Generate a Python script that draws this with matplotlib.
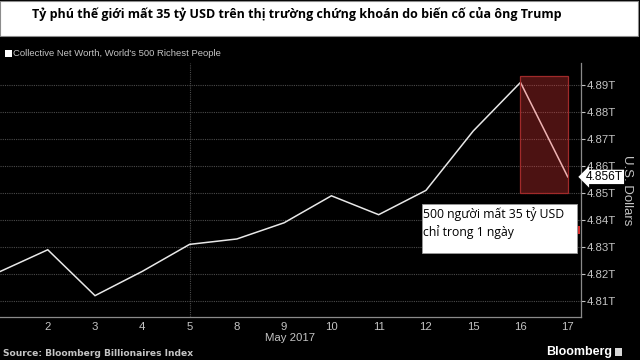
import matplotlib
matplotlib.use("Agg")
import matplotlib.pyplot as plt
from matplotlib.patches import Rectangle
from matplotlib.ticker import FixedLocator, FuncFormatter

# May 2017, trading days only
DAYS = ["1", "2", "3", "4", "5", "8", "9", "10", "11", "12", "15", "16", "17"]
NET_WORTH = [4.821, 4.829, 4.812, 4.821, 4.831, 4.833, 4.839, 4.849,
             4.842, 4.851, 4.873, 4.891, 4.856]
Y_TICKS = [4.81, 4.82, 4.83, 4.84, 4.85, 4.86, 4.87, 4.88, 4.89]
TICK_DAYS = ["2", "3", "4", "5", "8", "9", "10", "11", "12", "15", "16", "17"]

TITLE = "Tỷ phú thế giới mất 35 tỷ USD trên thị trường chứng khoán do biến cố của ông Trump"
LEGEND = "Collective Net Worth, World's 500 Richest People"
NOTE = "500 người mất 35 tỷ USD\nchỉ trong 1 ngày"
LAST_LABEL = "4.856T"
SOURCE = "Source: Bloomberg Billionaires Index"

VN = ["Open Sans", "DejaVu Sans"]
GREY = "#c4c4c4"

fig = plt.figure(figsize=(6.4, 3.6), dpi=100, facecolor="black")
W, H = 640.0, 360.0


def fx(px):
    return px / W


def fy(py):
    return 1 - py / H


ax = fig.add_axes([0, fy(316.7), fx(581), fy(63) - fy(316.7)])
ax.set_facecolor("black")

x = list(range(len(DAYS)))
ax.plot(x, NET_WORTH, color="#e8e8e8", linewidth=1.1, zorder=3, solid_joinstyle="miter")

# highlight the last day drop
i16 = DAYS.index("16")
i17 = DAYS.index("17")
ax.add_patch(Rectangle((i16, 4.85), i17 - i16, 4.8932 - 4.85,
                       facecolor="#ff3c3c", alpha=0.30, edgecolor="none", zorder=4))
ax.add_patch(Rectangle((i16, 4.85), i17 - i16, 4.8932 - 4.85,
                       facecolor="none", edgecolor="#a02a2a", linewidth=0.9, zorder=5))

ax.set_xlim(-0.01, 12.28)
ax.set_ylim(4.8042, 4.8982)

ax.yaxis.tick_right()
ax.set_yticks(Y_TICKS)
ax.yaxis.set_major_formatter(FuncFormatter(lambda v, _: f"{v:.2f}T"))
ax.set_xticks([DAYS.index(d) for d in TICK_DAYS])
ax.set_xticklabels(TICK_DAYS)
ax.tick_params(axis="y", colors=GREY, labelcolor=GREY, labelsize=8.2, length=3,
               width=0.8, pad=1, direction="out")
ax.tick_params(axis="x", colors=GREY, labelcolor=GREY, labelsize=8.2, length=0, pad=4)
for lab in ax.get_xticklabels() + ax.get_yticklabels():
    lab.set_family("Liberation Sans")

ax.grid(True, axis="y", color="#4a4a4a", linestyle=(0, (1, 1)), linewidth=0.8)
ax.xaxis.set_major_locator(FixedLocator([DAYS.index(d) for d in TICK_DAYS]))
ax.axvline(DAYS.index("5"), color="#4a4a4a", linestyle=(0, (1, 1)), linewidth=0.8, zorder=1)
ax.set_axisbelow(True)

for side in ["top", "left"]:
    ax.spines[side].set_visible(False)
ax.spines["right"].set_color("#8a8a8a")
ax.spines["bottom"].set_color("#8a8a8a")
ax.spines["right"].set_linewidth(0.9)
ax.spines["bottom"].set_linewidth(0.9)

# last value tag
ax.annotate(LAST_LABEL, xy=(1.0, NET_WORTH[-1]), xycoords=("axes fraction", "data"),
            xytext=(3.5, 0), textcoords="offset points", va="center", ha="left",
            fontsize=8.6, family="Liberation Sans", color="black",
            bbox=dict(boxstyle="larrow,pad=0.1", facecolor="white", edgecolor="none"),
            annotation_clip=False)

ax.text(1.0 + fx(51), 0.5, "U.S. Dollars", transform=ax.transAxes, rotation=270,
        ha="center", va="center", fontsize=9.5, color=GREY, family="Liberation Sans")

# title bar
fig.patches.append(Rectangle((0, fy(36)), fx(638), fy(1) - fy(36), transform=fig.transFigure,
                             facecolor="white", edgecolor="#8c8c8c", linewidth=0.8))
fig.text(fx(32), fy(14), TITLE, ha="left", va="center", fontsize=9.0,
         fontweight="bold", family=VN, color="black")

# legend
fig.patches.append(Rectangle((fx(5), fy(56.5)), fx(6.5), fy(50) - fy(56.5),
                             transform=fig.transFigure, facecolor="white", edgecolor="none"))
fig.text(fx(13), fy(53), LEGEND, ha="left", va="center", fontsize=6.8,
         family="Liberation Sans", color=GREY)

# note box
fig.patches.append(Rectangle((fx(421.7), fy(253.3)), fx(577.3 - 421.7), fy(204.3) - fy(253.3),
                             transform=fig.transFigure, facecolor="white",
                             edgecolor="#9a9a9a", linewidth=0.6, zorder=6))
fig.text(fx(423), fy(207), NOTE, ha="left", va="top", fontsize=8.8, family=VN,
         color="black", linespacing=1.4, zorder=7)
fig.patches.append(Rectangle((fx(577.5), fy(234)), fx(2), fy(226) - fy(234),
                             transform=fig.transFigure, facecolor="#d42a2a",
                             edgecolor="none", zorder=7))

fig.text(fx(290), fy(338), "May 2017", ha="center", va="center", fontsize=8.2,
         family="Liberation Sans", color=GREY)
fig.text(fx(3), fy(353), SOURCE, ha="left", va="center", fontsize=6.6,
         fontweight="bold", family="DejaVu Sans", color=GREY)
fig.text(fx(612), fy(352), "Bloomberg", ha="right", va="center", fontsize=9.0,
         fontweight="bold", family="Liberation Sans", color="white")
fig.patches.append(Rectangle((fx(615), fy(356)), fx(7), fy(348) - fy(356),
                             transform=fig.transFigure, facecolor="#d8d8d8", edgecolor="none"))

fig.savefig("out.png", dpi=100, facecolor="black")
